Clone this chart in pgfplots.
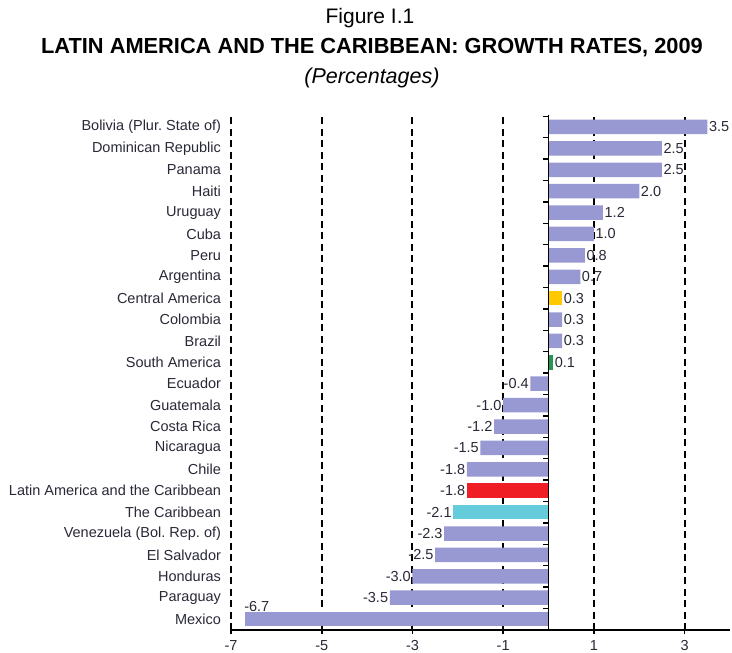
\documentclass[border=0pt]{standalone}
\usepackage{pgfplots}
\pgfplotsset{compat=1.18}
\usepackage{fontspec}
\setmainfont{Liberation Sans}
\frenchspacing
\definecolor{lav}{RGB}{152,152,210}
\definecolor{yel}{RGB}{255,200,0}
\definecolor{grn}{RGB}{40,150,80}
\definecolor{redb}{RGB}{238,30,36}
\definecolor{cyb}{RGB}{100,204,218}
\definecolor{txt}{RGB}{40,40,55}
\begin{document}
\begin{tikzpicture}
\path[use as bounding box] (0pt,0pt) rectangle (732pt,-653pt);
\node[font=\fontsize{21}{24}\selectfont, text=black] at (370pt,-18pt) {Figure I.1};
\node[font=\fontsize{21.8}{25}\selectfont\bfseries, text=black] at (372pt,-48pt) {LATIN AMERICA AND THE CARIBBEAN: GROWTH RATES, 2009};
\node[font=\fontsize{21.5}{24}\selectfont\itshape, text=black] at (372pt,-78pt) {(Percentages)};
\begin{axis}[
  at={(231pt,-630pt)}, anchor=south west,
  scale only axis, width=499pt, height=515pt,
  xmin=-7, xmax=4, ymin=-0.51, ymax=23.56,
  xbar, bar width=14.5pt, bar shift=0pt,
  axis x line*=bottom, axis y line*=left,
  y axis line style={draw=none},
  x axis line style={line width=1.8pt, -},
  xtick={-7,-5,-3,-1,1,3},
  xmajorgrids,
  major grid style={black, line width=2pt, dash pattern=on 7pt off 4.5pt},
  tick align=center, major tick length=7pt,
  xtick style={black, line width=1.6pt},
  ytick={0,...,23},
  yticklabels={Mexico, Paraguay, Honduras, El Salvador, {Venezuela (Bol. Rep. of)}, The Caribbean, Latin America and the Caribbean, Chile, Nicaragua, Costa Rica, Guatemala, Ecuador, South America, Brazil, Colombia, Central America, Argentina, Peru, Cuba, Uruguay, Haiti, Panama, Dominican Republic, {Bolivia (Plur. State of)}},
  ytick style={draw=none},
  yticklabel style={font=\fontsize{14.5}{16}\selectfont, text=txt, xshift=-3pt},
  xticklabel style={font=\fontsize{14.5}{16}\selectfont, text=txt, yshift=-3pt},
  /pgf/number format/assume math mode=true,
  nodes near coords={\pgfmathprintnumber[fixed,fixed zerofill,precision=1,assume math mode=true]{\pgfplotspointmeta}},
  nodes near coords align=horizontal,
  every node near coord/.append style={font=\fontsize{14.5}{16}\selectfont, text=txt, inner sep=1.5pt},
]
\addplot[fill=lav, draw=none] coordinates {
(-3.5,1) (-3.0,2) (-2.5,3) (-2.3,4) (-1.8,7) (-1.5,8) (-1.2,9) (-1.0,10) (-0.4,11)
(0.3,13) (0.3,14) (0.7,16) (0.8,17) (1.0,18) (1.2,19) (2.0,20) (2.5,21) (2.5,22) (3.5,23)};
\addplot[fill=lav, draw=none, every node near coord/.append style={anchor=south west, yshift=6pt, xshift=-2pt}] coordinates {(-6.7,0)};
\addplot[fill=cyb, draw=none] coordinates {(-2.1,5)};
\addplot[fill=redb, draw=none] coordinates {(-1.8,6)};
\addplot[fill=grn, draw=none] coordinates {(0.1,12)};
\addplot[fill=yel, draw=none] coordinates {(0.3,15)};
\draw[line width=1.8pt] (axis cs:0,-0.51) -- (axis cs:0,23.56);
\pgfplotsinvokeforeach{0,...,23}{\draw[line width=1.4pt] (axis cs:0,#1.5) -- ([xshift=-6pt]axis cs:0,#1.5);}
\end{axis}
\end{tikzpicture}
\end{document}
